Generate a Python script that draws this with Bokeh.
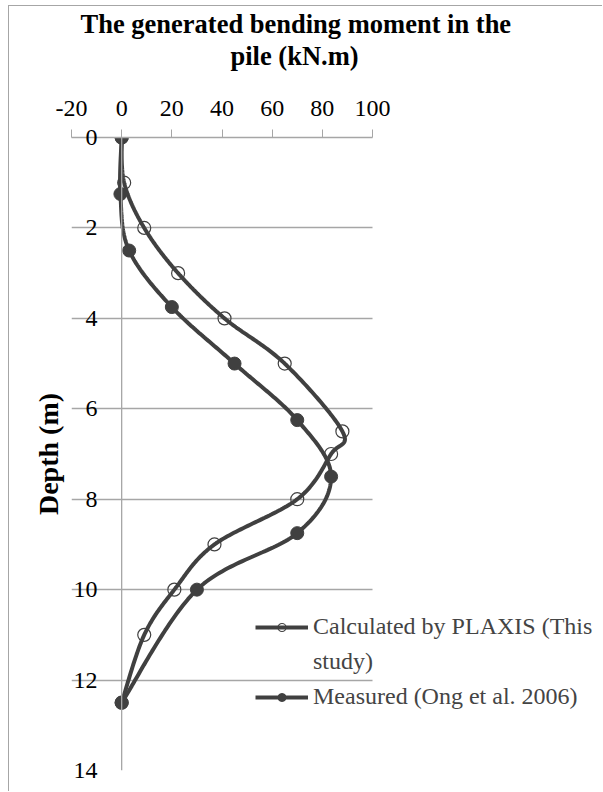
import numpy as np
from bokeh.plotting import figure
from bokeh.models import (Range1d, SingleIntervalTicker, Span, Legend, LegendItem,
                          Title, NumeralTickFormatter)
from bokeh.embed import file_html
from bokeh.resources import INLINE

# ---- data ----
depth_calc = [0, 1, 2, 3, 4, 5, 6.5, 7, 8, 9, 10, 11, 12.5]
moment_calc = [0, 1, 9, 22.5, 41, 65, 88, 83.5, 70, 37, 21, 9, 0]
depth_meas = [0, 1.25, 2.5, 3.75, 5, 6.25, 7.5, 8.75, 10, 12.5]
moment_meas = [0, -0.5, 3, 20, 45, 70, 83.5, 70, 30, 0]
label_calc_1 = "Calculated by PLAXIS (This"
label_calc_2 = "study)"
label_meas = "Measured (Ong et al. 2006)"
title_line1 = "The generated bending moment in the"
title_line2 = "pile (kN.m)"
y_label = "Depth (m)"
x_min, x_max = -20, 100
y_min, y_max = 0, 14

FONT = "Liberation Serif"
DARK = "#404040"
GRID = "#a6a6a6"


def smooth(xs, ys, n=40):
    """Catmull-Rom style smoothing (like Excel's smoothed line)."""
    P = np.column_stack([np.asarray(xs, float), np.asarray(ys, float)])
    out = []
    m = len(P)
    t = np.linspace(0, 1, n)[:, None]
    for i in range(m - 1):
        p0 = P[i - 1] if i > 0 else P[i]
        p1 = P[i]
        p2 = P[i + 1]
        p3 = P[i + 2] if i + 2 < m else P[i + 1]
        c1 = p1 + (p2 - p0) / 6.0
        c2 = p2 - (p3 - p1) / 6.0
        seg = ((1 - t) ** 3) * p1 + 3 * ((1 - t) ** 2) * t * c1 + 3 * (1 - t) * t ** 2 * c2 + t ** 3 * p2
        out.append(seg if i == 0 else seg[1:])
    S = np.vstack(out)
    return S[:, 0], S[:, 1]


# layout (canvas pixels); the frame extends right so the legend can overlap it
W, H = 594, 786
FRAME_L, FRAME_T, FRAME_B = 62, 130, 764
plot_px = 301.0  # pixels between x_min and x_max
x_end = x_min + (x_max - x_min) * (W - FRAME_L) / plot_px

p = figure(width=W, height=H, output_backend="svg", toolbar_location=None,
           x_range=Range1d(x_min, x_end), y_range=Range1d(y_max, y_min),
           x_axis_location="above", min_border_left=FRAME_L, min_border_right=0,
           min_border_top=FRAME_T, min_border_bottom=H - FRAME_B)
p.outline_line_color = None
p.background_fill_color = "white"
p.border_fill_color = "white"
p.styles = {"margin-left": "8px", "margin-top": "5px",
            "border-left": "1px solid #a6a6a6", "border-top": "1px solid #a6a6a6"}

# x axis (top)
xa = p.xaxis[0]
xa.ticker = SingleIntervalTicker(interval=20)
xa.formatter = NumeralTickFormatter(format="0")
xa.bounds = (x_min, x_max)
xa.minor_tick_line_color = None
xa.major_tick_in = 0
xa.major_tick_out = 8
xa.axis_line_color = GRID
xa.major_tick_line_color = GRID
xa.axis_line_width = 1.3
xa.major_label_text_font = FONT
xa.major_label_text_font_size = "24px"
xa.major_label_text_color = "black"
xa.major_label_standoff = 14

# y axis (left)
ya = p.yaxis[0]
ya.ticker = SingleIntervalTicker(interval=2)
ya.minor_tick_line_color = None
ya.major_tick_line_color = None
ya.axis_line_color = None
ya.major_label_text_font = FONT
ya.major_label_text_font_size = "24px"
ya.major_label_text_color = "black"
ya.major_label_standoff = -32
ya.axis_label = y_label
ya.axis_label_text_font = FONT
ya.axis_label_text_font_style = "bold"
ya.axis_label_text_font_size = "28px"
ya.axis_label_text_color = "black"
ya.axis_label_standoff = 7

p.xgrid.visible = False
p.ygrid.ticker = SingleIntervalTicker(interval=2)
p.ygrid.grid_line_color = GRID
p.ygrid.grid_line_width = 1.3
p.ygrid.cross_bounds = (x_min, x_max)

p.add_layout(Span(location=0, dimension="height", line_color=GRID, line_width=1.3))

# series
cx, cy = smooth(moment_calc, depth_calc)
mx, my = smooth(moment_meas, depth_meas)
l1 = p.line(cx, cy, line_color=DARK, line_width=4)
s1 = p.scatter(moment_calc, depth_calc, size=13, marker="circle", fill_color=None,
               line_color=DARK, line_width=1.2)
l2 = p.line(mx, my, line_color=DARK, line_width=4)
s2 = p.scatter(moment_meas, depth_meas, size=13, marker="circle", fill_color=DARK,
               line_color=DARK, line_width=1)
# invisible renderer used only for the wrapped second line of the first legend label
wrap = p.line(x=[], y=[], line_alpha=0)

legend = Legend(items=[LegendItem(label=label_calc_1, renderers=[l1, s1]),
                       LegendItem(label=label_calc_2, renderers=[wrap]),
                       LegendItem(label=label_meas, renderers=[l2, s2])],
                location=(184, 60), padding=0, margin=0, spacing=8,
                glyph_width=53, glyph_height=20, label_standoff=5,
                label_text_font=FONT, label_text_font_size="24px",
                label_text_line_height=1.2,
                border_line_color=None, background_fill_alpha=0)
p.add_layout(legend, "center")

# spacer between the axis and the two-line title
spacer = Title(text=" ", text_font_size="1px", text_color="white", standoff=24)
t2 = Title(text=title_line2, align="left", offset=159, text_font=FONT,
           text_font_style="bold", text_font_size="26.5px", text_color="black",
           standoff=0)
t1 = Title(text=title_line1, align="left", offset=9, text_font=FONT,
           text_font_style="bold", text_font_size="26.5px", text_color="black",
           standoff=0)
p.add_layout(spacer, "above")
p.add_layout(t2, "above")
p.add_layout(t1, "above")

open("out.html", "w").write(file_html(p, INLINE))
